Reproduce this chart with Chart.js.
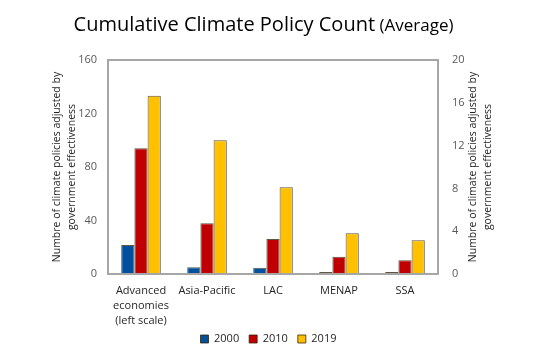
<!DOCTYPE html>
<html>
<head>
<meta charset="utf-8">
<script src="https://cdn.jsdelivr.net/npm/chart.js@4.4.1/dist/chart.umd.min.js"></script>
<style>
  html, body { margin: 0; padding: 0; background: #fff; }
  #wrap { width: 537px; height: 347px; }
</style>
</head>
<body>
<div id="wrap"><canvas id="chart" width="537" height="347"></canvas></div>
<script>
// categories and values
const categories = [['Advanced', 'economies', '(left scale)'], 'Asia-Pacific', 'LAC', 'MENAP', 'SSA'];
const years = ['2000', '2010', '2019'];
const colors = ['#00509E', '#C00000', '#FFC000'];

// Advanced economies, left scale: 2000, 2010, 2019
const advanced = [21.7, 94, 133.3];
// other regions, right scale (first slot belongs to the left scale)
const v2000 = [null, 0.63, 0.59, 0.19, 0.19];
const v2010 = [null, 4.74, 3.27, 1.62, 1.28];
const v2019 = [null, 12.5, 8.1, 3.8, 3.15];
const rightSeries = [v2000, v2010, v2019];

const leftTicks = [0, 40, 80, 120, 160];
const rightTicks = [0, 4, 8, 12, 16, 20];
const axisTitle = ['Numbre of climate policies adjusted by', 'government effectiveness'];

const FONT = '"Open Sans", "Noto Sans", sans-serif';

const datasets = [];
years.forEach((y, i) => {
    datasets.push({
        label: y,
        data: categories.map((c, k) => (k === 0 ? advanced[i] : null)),
        yAxisID: 'y',
        backgroundColor: colors[i],
        borderColor: 'rgba(40,30,0,0.75)',
        borderWidth: 1
    });
});
years.forEach((y, i) => {
    datasets.push({
        label: y,
        data: rightSeries[i],
        yAxisID: 'y1',
        backgroundColor: colors[i],
        borderColor: 'rgba(40,30,0,0.75)',
        borderWidth: 1
    });
});

// title, axis titles and the plot frame
const decor = {
    id: 'decor',
    afterLayout(chart) {
        const lg = chart.legend;
        if (lg) { lg.top -= 6.5; lg.bottom -= 6.5; }
    },
    afterDatasetsDraw(chart) {
        const { ctx, chartArea: a } = chart;
        ctx.save();
        ctx.strokeStyle = '#A6A6A6';
        ctx.lineWidth = 2;
        ctx.strokeRect(a.left, a.top, a.right - a.left, a.bottom - a.top);
        ctx.restore();
    },
    afterDraw(chart) {
        const { ctx, chartArea: a } = chart;
        ctx.save();
        // main title
        const main = 'Cumulative Climate Policy Count';
        const sub = ' (Average)';
        ctx.fillStyle = '#000';
        ctx.textBaseline = 'alphabetic';
        ctx.font = '20px ' + FONT;
        const w1 = ctx.measureText(main).width;
        ctx.font = '17px ' + FONT;
        const w2 = ctx.measureText(sub).width;
        let x = 263.5 - (w1 + w2) / 2;
        ctx.font = '20px ' + FONT;
        ctx.textAlign = 'left';
        ctx.fillText(main, x, 31);
        ctx.font = '17px ' + FONT;
        ctx.fillText(sub, x + w1, 31);

        // axis titles, both reading bottom to top
        const cy = (a.top + a.bottom) / 2;
        ctx.font = '10.5px ' + FONT;
        ctx.fillStyle = '#262626';
        ctx.textAlign = 'center';
        ctx.textBaseline = 'middle';
        [[57.5, 72], [473.5, 488]].forEach(xs => {
            xs.forEach((cx, i) => {
                ctx.save();
                ctx.translate(cx, cy);
                ctx.rotate(-Math.PI / 2);
                ctx.fillText(axisTitle[i], 0, 0);
                ctx.restore();
            });
        });
        ctx.restore();
    }
};

new Chart(document.getElementById('chart'), {
    type: 'bar',
    data: { labels: categories, datasets: datasets },
    options: {
        responsive: false,
        animation: false,
        skipNull: true,
        categoryPercentage: 0.6,
        barPercentage: 1,
        layout: { padding: { top: 60, left: 0, right: 0, bottom: -14 } },
        plugins: {
            legend: {
                position: 'bottom',
                labels: {
                    boxWidth: 8,
                    boxHeight: 8,
                    padding: 10,
                    color: '#262626',
                    font: { family: FONT, size: 11 },
                    filter: item => item.datasetIndex < 3
                }
            },
            title: { display: false },
            tooltip: { enabled: false }
        },
        scales: {
            x: {
                grid: { display: false, drawTicks: false },
                border: { display: false },
                ticks: {
                    color: '#262626',
                    padding: 9,
                    maxRotation: 0,
                    autoSkip: false,
                    font: { family: FONT, size: 11, lineHeight: 1.38 }
                },
                afterFit(s) { s.height = 56; }
            },
            y: {
                position: 'left',
                min: 0,
                max: 160,
                grid: { display: false, drawTicks: false },
                border: { display: false },
                afterBuildTicks(s) { s.ticks = leftTicks.map(v => ({ value: v })); },
                ticks: {
                    color: '#595959',
                    padding: 11,
                    font: { family: FONT, size: 11 }
                },
                afterFit(s) { s.width = 108; }
            },
            y1: {
                position: 'right',
                min: 0,
                max: 20,
                grid: { display: false, drawTicks: false },
                border: { display: false },
                afterBuildTicks(s) { s.ticks = rightTicks.map(v => ({ value: v })); },
                ticks: {
                    color: '#595959',
                    padding: 14,
                    font: { family: FONT, size: 11 }
                },
                afterFit(s) { s.width = 99; }
            }
        }
    },
    plugins: [decor]
});
</script>
</body>
</html>
